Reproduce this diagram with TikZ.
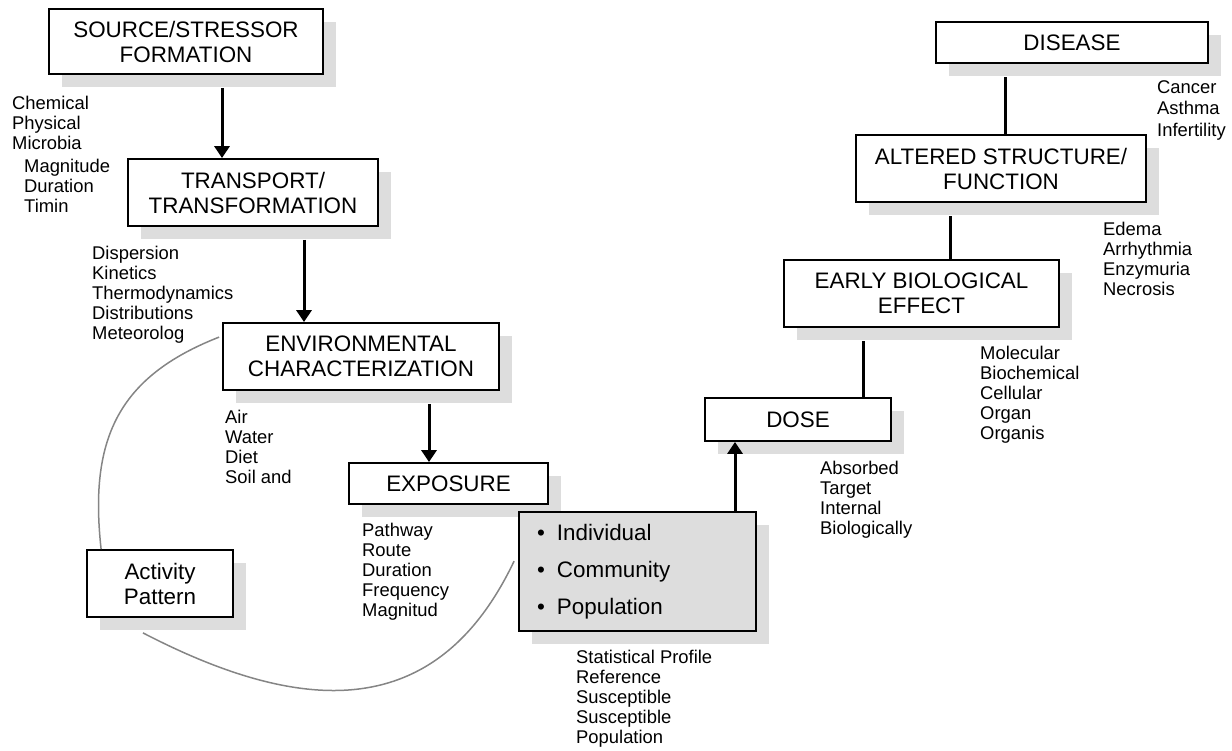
\documentclass[tikz,border=0pt]{standalone}
\usepackage{fontspec}
\setmainfont{Liberation Sans}
\usepackage{tikz}
\usetikzlibrary{arrows.meta, shadows, positioning}
\definecolor{shadowgray}{HTML}{DDDDDD}
\definecolor{trailgray}{HTML}{858585}
\newcommand{\boxfont}{\fontsize{22.4}{25}\selectfont}
\newcommand{\labfont}{\fontsize{18.4}{20}\selectfont}

\begin{document}
\begin{tikzpicture}[
  x=1pt, y=-1pt,
  stage/.style={draw, line width=1.8pt, fill=white, inner sep=0pt,
                align=center, font=\boxfont,
                drop shadow={shadow xshift=13pt, shadow yshift=-13pt,
                             fill=shadowgray, opacity=1}},
  grp/.style={stage, fill=shadowgray},
  lab/.style={anchor=north west, inner sep=0pt, align=left, font=\labfont},
  flow/.style={-{Triangle[length=12pt, width=15pt]}, line width=3pt},
  link/.style={line width=3pt},
  trail/.style={draw=trailgray, line width=1.5pt}
]
\useasboundingbox (0,0) rectangle (1232,750);

%% Stages (left branch)
\node[stage, minimum width=274pt, minimum height=65pt] (src)   at (186,41.5)  {SOURCE/STRESSOR\\FORMATION};
\node[stage, minimum width=250pt, minimum height=67pt] (trans) at (253,192.5) {TRANSPORT/\\TRANSFORMATION};
\node[stage, minimum width=276pt, minimum height=67pt] (env)   at (361,356.5) {ENVIRONMENTAL\\CHARACTERIZATION};
\node[stage, minimum width=199pt, minimum height=41pt] (expo)  at (448.5,483.5) {EXPOSURE};
\node[stage, minimum width=146pt, minimum height=67pt] (act)   at (160,583.5) {Activity\\Pattern};

%% Exposed group
\node[grp, minimum height=119pt, text width=201pt, inner xsep=18pt, align=left,
      font=\fontsize{22.4}{37}\selectfont] (pop) at (637.5,571.5)
  {\makebox[20pt][l]{\textbullet}Individual\\
   \makebox[20pt][l]{\textbullet}Community\\
   \makebox[20pt][l]{\textbullet}Population};

%% Stages (right branch)
\node[stage, minimum width=186pt, minimum height=43pt] (dose)  at (798,419.5)  {DOSE};
\node[stage, minimum width=275pt, minimum height=67pt] (early) at (921.5,293.5) {EARLY BIOLOGICAL\\EFFECT};
\node[stage, minimum width=290pt, minimum height=67pt] (alt)   at (1001,168.5) {ALTERED STRUCTURE/\\FUNCTION};
\node[stage, minimum width=272pt, minimum height=41pt] (dis)   at (1072,42.5)  {DISEASE};

%% Side notes
\node[lab] (chem)   at (12,96)    {Chemical\\Physical\\Microbia};
\node[lab] (mag)    at (24,159)   {Magnitude\\Duration\\Timin};
\node[lab] (disp)   at (92,246)   {Dispersion\\Kinetics\\Thermodynamics\\Distributions\\Meteorolog};
\node[lab] (media)  at (225,410)  {Air\\Water\\Diet\\Soil and};
\node[lab] (route)  at (362,523)  {Pathway\\Route\\Duration\\Frequency\\Magnitud};
\node[lab] (stat)   at (576,650)  {Statistical Profile\\Reference\\Susceptible\\Susceptible\\Population};
\node[lab] (absorb) at (820,461)  {Absorbed\\Target\\Internal\\Biologically};
\node[lab] (level)  at (980,346)  {Molecular\\Biochemical\\Cellular\\Organ\\Organis};
\node[lab] (symp)   at (1103,222) {Edema\\Arrhythmia\\Enzymuria\\Necrosis};
\node[lab, font=\fontsize{18.4}{21.5}\selectfont] (ill) at (1157,80) {Cancer\\Asthma\\Infertility};

%% Arrows down the chain
\coordinate (a1) at ([xshift=36pt, yshift=-13pt]src.south);
\draw[flow] (a1) -- (a1 |- trans.north);
\coordinate (a2) at ([xshift=51pt, yshift=-13pt]trans.south);
\draw[flow] (a2) -- (a2 |- env.north);
\coordinate (a3) at ([xshift=68pt, yshift=-13pt]env.south);
\draw[flow] (a3) -- (a3 |- expo.north);
\coordinate (a4) at ([xshift=97.5pt]pop.north);
\draw[flow] (a4) -- (a4 |- dose.south);

%% Plain links up to disease
\coordinate (l1) at ([xshift=65pt]dose.north);
\coordinate (l1t) at ([yshift=-13pt]early.south);
\draw[link] (l1) -- (l1 |- l1t);
\coordinate (l2) at ([xshift=28.5pt]early.north);
\coordinate (l2t) at ([yshift=-13pt]alt.south);
\draw[link] (l2) -- (l2 |- l2t);
\coordinate (l3) at ([xshift=4pt]alt.north);
\coordinate (l3t) at ([yshift=-13pt]dis.south);
\draw[link] (l3) -- (l3 |- l3t);

%% Activity loop
\coordinate (c1) at ([xshift=-3pt, yshift=-15pt]env.north west);
\coordinate (c2) at ([xshift=15pt]act.north west);
\draw[trail] (c1) .. controls +(-102,40) and +(-12,-109) .. (c2);
\coordinate (c3) at ([xshift=-17pt, yshift=-15pt]act.south);
\coordinate (c4) at ([xshift=-4pt, yshift=-50pt]pop.north west);
\draw[trail] (c3) .. controls +(160,83) and +(-77,162) .. (c4);

\end{tikzpicture}
\end{document}
